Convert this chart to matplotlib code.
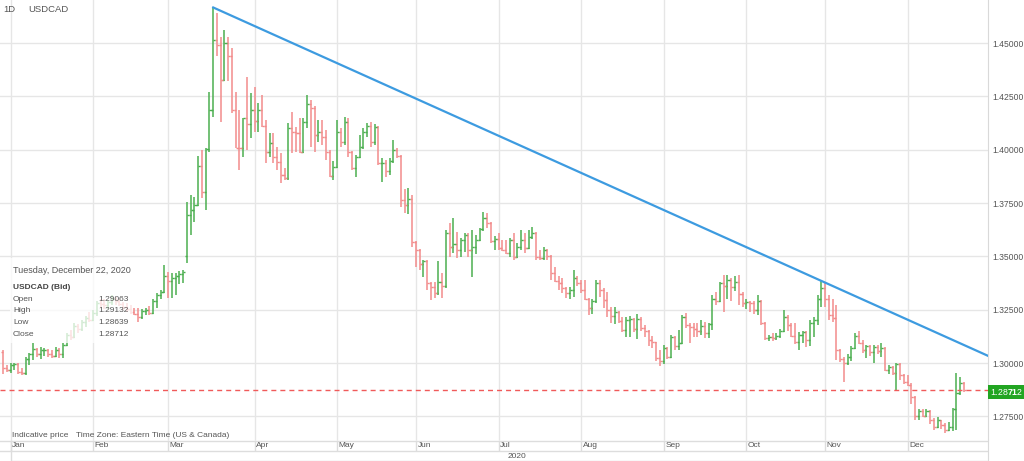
import numpy as np
import pandas as pd
import matplotlib
matplotlib.use('Agg')
import matplotlib.pyplot as plt
from matplotlib.patches import Rectangle
from matplotlib.ticker import FormatStrFormatter

plt.rcParams['font.family'] = ['Liberation Sans', 'DejaVu Sans']
plt.rcParams['mathtext.fontset'] = 'custom'
plt.rcParams['mathtext.rm'] = 'Liberation Sans'
plt.rcParams['mathtext.bf'] = 'Liberation Sans:bold'

# daily USDCAD bars: (open, high, low, close)
dec_2019 = [(1.3050, 1.3061, 1.2950, 1.2975), (1.2975, 1.2991, 1.2958, 1.2965)]
jan = [(1.2965, 1.3000, 1.2953, 1.2990), (1.2990, 1.3000, 1.2967, 1.2995), (1.2995, 1.2998, 1.2950, 1.2960),
       (1.2960, 1.2975, 1.2944, 1.2955), (1.2955, 1.3028, 1.2944, 1.3020), (1.3020, 1.3047, 1.2991, 1.3040),
       (1.3040, 1.3094, 1.3014, 1.3065), (1.3065, 1.3070, 1.3028, 1.3040), (1.3040, 1.3075, 1.3020, 1.3060),
       (1.3060, 1.3070, 1.3035, 1.3062), (1.3062, 1.3068, 1.3030, 1.3040), (1.3040, 1.3060, 1.3025, 1.3035),
       (1.3035, 1.3075, 1.3030, 1.3060), (1.3060, 1.3070, 1.3025, 1.3040), (1.3040, 1.3094, 1.3023, 1.3085),
       (1.3085, 1.3141, 1.3080, 1.3130), (1.3130, 1.3155, 1.3108, 1.3120), (1.3120, 1.3188, 1.3115, 1.3175),
       (1.3175, 1.3185, 1.3140, 1.3160), (1.3160, 1.3200, 1.3150, 1.3190), (1.3190, 1.3220, 1.3170, 1.3210),
       (1.3210, 1.3240, 1.3190, 1.3200), (1.3200, 1.3250, 1.3195, 1.3235)]
feb = [(1.3235, 1.3290, 1.3220, 1.3280), (1.3280, 1.3300, 1.3260, 1.3275), (1.3275, 1.3300, 1.3255, 1.3270),
       (1.3270, 1.3295, 1.3255, 1.3285), (1.3285, 1.3320, 1.3270, 1.3300), (1.3300, 1.3310, 1.3270, 1.3290),
       (1.3290, 1.3300, 1.3265, 1.3275), (1.3275, 1.3285, 1.3250, 1.3262), (1.3262, 1.3280, 1.3240, 1.3255),
       (1.3255, 1.3270, 1.3230, 1.3240), (1.3240, 1.3258, 1.3225, 1.3232), (1.3232, 1.3260, 1.3190, 1.3215),
       (1.3215, 1.3255, 1.3205, 1.3245), (1.3245, 1.3260, 1.3225, 1.3250), (1.3250, 1.3265, 1.3225, 1.3235),
       (1.3235, 1.3300, 1.3230, 1.3290), (1.3290, 1.3330, 1.3260, 1.3320), (1.3320, 1.3340, 1.3300, 1.3335),
       (1.3335, 1.3460, 1.3330, 1.3410), (1.3410, 1.3427, 1.3305, 1.3385)]
mar = [(1.3385, 1.3422, 1.3305, 1.3400), (1.3400, 1.3420, 1.3320, 1.3408), (1.3408, 1.3430, 1.3370, 1.3415),
       (1.3415, 1.3436, 1.3375, 1.3425), (1.3500, 1.3755, 1.3469, 1.3694), (1.3694, 1.3788, 1.3600, 1.3718),
       (1.3718, 1.3778, 1.3660, 1.3740), (1.3740, 1.3971, 1.3735, 1.3924), (1.3924, 1.4000, 1.3774, 1.3800),
       (1.3800, 1.4008, 1.3718, 1.4003), (1.4003, 1.4270, 1.3990, 1.4187), (1.4187, 1.4667, 1.4153, 1.4515),
       (1.4515, 1.4640, 1.4440, 1.4490), (1.4490, 1.4529, 1.4130, 1.4327), (1.4327, 1.4562, 1.4320, 1.4500),
       (1.4500, 1.4529, 1.4320, 1.4440), (1.4440, 1.4477, 1.4173, 1.4187), (1.4187, 1.4270, 1.4008, 1.4010),
       (1.4010, 1.4187, 1.3905, 1.4008), (1.4008, 1.4149, 1.3966, 1.4149), (1.4149, 1.4340, 1.4000, 1.4120),
       (1.4120, 1.4266, 1.4055, 1.4187)]
apr = [(1.4187, 1.4294, 1.4083, 1.4135), (1.4135, 1.4220, 1.4084, 1.4187), (1.4187, 1.4257, 1.4107, 1.4112),
       (1.4112, 1.4140, 1.3938, 1.3990), (1.3990, 1.4079, 1.3966, 1.4030), (1.4030, 1.4079, 1.3938, 1.3966),
       (1.3966, 1.4013, 1.3905, 1.3942), (1.3942, 1.3985, 1.3844, 1.3880), (1.3880, 1.3915, 1.3858, 1.3867),
       (1.3867, 1.4126, 1.3860, 1.4102), (1.4102, 1.4178, 1.3985, 1.4085), (1.4085, 1.4107, 1.3990, 1.4079),
       (1.4079, 1.4149, 1.3985, 1.3990), (1.3990, 1.4150, 1.3985, 1.4131), (1.4131, 1.4257, 1.4102, 1.4215),
       (1.4215, 1.4233, 1.4013, 1.4196), (1.4196, 1.4205, 1.3990, 1.4070), (1.4070, 1.4140, 1.4035, 1.4084),
       (1.4084, 1.4140, 1.4023, 1.4060), (1.4060, 1.4093, 1.3952, 1.3990), (1.3990, 1.3999, 1.3872, 1.3875),
       (1.3875, 1.3945, 1.3858, 1.3920)]
may = [(1.3920, 1.4140, 1.3915, 1.4084), (1.4084, 1.4103, 1.4013, 1.4037), (1.4037, 1.4154, 1.4020, 1.4130),
       (1.4130, 1.4150, 1.3966, 1.3990), (1.3990, 1.3995, 1.3905, 1.3915), (1.3915, 1.3975, 1.3872, 1.3966),
       (1.3966, 1.4070, 1.3961, 1.4013), (1.4013, 1.4102, 1.4005, 1.4084), (1.4084, 1.4126, 1.4060, 1.4112),
       (1.4112, 1.4130, 1.4013, 1.4037), (1.4037, 1.4120, 1.4020, 1.4107), (1.4107, 1.4110, 1.3929, 1.3938),
       (1.3938, 1.3961, 1.3850, 1.3940), (1.3940, 1.3950, 1.3870, 1.3900), (1.3900, 1.3960, 1.3880, 1.3945),
       (1.3945, 1.4046, 1.3938, 1.3999), (1.3999, 1.4010, 1.3960, 1.3971), (1.3971, 1.3975, 1.3730, 1.3764),
       (1.3764, 1.3816, 1.3704, 1.3741), (1.3741, 1.3821, 1.3699, 1.3770), (1.3770, 1.3788, 1.3544, 1.3567)]
jun = [(1.3567, 1.3570, 1.3450, 1.3530), (1.3530, 1.3535, 1.3436, 1.3464), (1.3464, 1.3483, 1.3403, 1.3480),
       (1.3480, 1.3485, 1.3342, 1.3375), (1.3375, 1.3380, 1.3295, 1.3356), (1.3356, 1.3380, 1.3303, 1.3328),
       (1.3328, 1.3478, 1.3320, 1.3380), (1.3380, 1.3422, 1.3305, 1.3360), (1.3360, 1.3624, 1.3350, 1.3610),
       (1.3610, 1.3657, 1.3497, 1.3544), (1.3544, 1.3680, 1.3516, 1.3560), (1.3560, 1.3614, 1.3492, 1.3530),
       (1.3530, 1.3587, 1.3495, 1.3577), (1.3577, 1.3610, 1.3520, 1.3600), (1.3600, 1.3610, 1.3497, 1.3530),
       (1.3530, 1.3624, 1.3403, 1.3545), (1.3545, 1.3600, 1.3510, 1.3575), (1.3575, 1.3633, 1.3570, 1.3628),
       (1.3628, 1.3708, 1.3620, 1.3680), (1.3680, 1.3704, 1.3633, 1.3657), (1.3657, 1.3660, 1.3563, 1.3570),
       (1.3570, 1.3596, 1.3530, 1.3580)]
jul = [(1.3580, 1.3610, 1.3530, 1.3540), (1.3540, 1.3577, 1.3525, 1.3530), (1.3530, 1.3577, 1.3510, 1.3515),
       (1.3515, 1.3587, 1.3497, 1.3577), (1.3577, 1.3610, 1.3483, 1.3497), (1.3497, 1.3563, 1.3490, 1.3544),
       (1.3544, 1.3624, 1.3530, 1.3577), (1.3577, 1.3610, 1.3516, 1.3540), (1.3540, 1.3624, 1.3535, 1.3590),
       (1.3590, 1.3638, 1.3580, 1.3610), (1.3610, 1.3615, 1.3483, 1.3497), (1.3497, 1.3530, 1.3483, 1.3490),
       (1.3490, 1.3545, 1.3485, 1.3530), (1.3530, 1.3535, 1.3483, 1.3500), (1.3500, 1.3505, 1.3389, 1.3420),
       (1.3420, 1.3450, 1.3380, 1.3385), (1.3385, 1.3410, 1.3342, 1.3375), (1.3375, 1.3400, 1.3330, 1.3350),
       (1.3350, 1.3356, 1.3305, 1.3328), (1.3328, 1.3356, 1.3300, 1.3342), (1.3342, 1.3436, 1.3310, 1.3400),
       (1.3400, 1.3410, 1.3360, 1.3375), (1.3375, 1.3389, 1.3330, 1.3340)]
aug = [(1.3340, 1.3389, 1.3295, 1.3300), (1.3300, 1.3305, 1.3225, 1.3260), (1.3260, 1.3300, 1.3230, 1.3290),
       (1.3290, 1.3389, 1.3280, 1.3375), (1.3375, 1.3389, 1.3310, 1.3342), (1.3342, 1.3352, 1.3258, 1.3295),
       (1.3295, 1.3333, 1.3216, 1.3249), (1.3249, 1.3262, 1.3188, 1.3220), (1.3220, 1.3262, 1.3185, 1.3240),
       (1.3240, 1.3245, 1.3188, 1.3198), (1.3198, 1.3215, 1.3145, 1.3155), (1.3155, 1.3215, 1.3122, 1.3200),
       (1.3200, 1.3220, 1.3120, 1.3205), (1.3205, 1.3210, 1.3145, 1.3160), (1.3160, 1.3230, 1.3112, 1.3205),
       (1.3205, 1.3215, 1.3150, 1.3165), (1.3165, 1.3180, 1.3122, 1.3150), (1.3150, 1.3155, 1.3080, 1.3108),
       (1.3108, 1.3125, 1.3070, 1.3098), (1.3098, 1.3100, 1.3010, 1.3023), (1.3023, 1.3060, 1.2985, 1.3010)]
sep = [(1.3010, 1.3085, 1.2995, 1.3070), (1.3070, 1.3075, 1.3020, 1.3030), (1.3030, 1.3131, 1.3023, 1.3120),
       (1.3120, 1.3125, 1.3060, 1.3080), (1.3080, 1.3155, 1.3061, 1.3094), (1.3094, 1.3225, 1.3090, 1.3216),
       (1.3216, 1.3235, 1.3164, 1.3180), (1.3180, 1.3188, 1.3094, 1.3170), (1.3170, 1.3188, 1.3122, 1.3160),
       (1.3160, 1.3188, 1.3122, 1.3150), (1.3150, 1.3200, 1.3130, 1.3175), (1.3175, 1.3190, 1.3117, 1.3141),
       (1.3141, 1.3188, 1.3117, 1.3185), (1.3185, 1.3319, 1.3155, 1.3300), (1.3300, 1.3333, 1.3272, 1.3290),
       (1.3290, 1.3380, 1.3286, 1.3375), (1.3375, 1.3413, 1.3239, 1.3360), (1.3360, 1.3413, 1.3300, 1.3390),
       (1.3390, 1.3400, 1.3290, 1.3356), (1.3356, 1.3406, 1.3338, 1.3380), (1.3380, 1.3413, 1.3272, 1.3322),
       (1.3322, 1.3333, 1.3262, 1.3280)]
oct_ = [(1.3280, 1.3300, 1.3255, 1.3285), (1.3285, 1.3290, 1.3240, 1.3280), (1.3280, 1.3290, 1.3230, 1.3249),
        (1.3249, 1.3319, 1.3225, 1.3290), (1.3290, 1.3295, 1.3178, 1.3188), (1.3188, 1.3190, 1.3108, 1.3117),
        (1.3117, 1.3130, 1.3103, 1.3120), (1.3120, 1.3140, 1.3103, 1.3115), (1.3115, 1.3140, 1.3110, 1.3125),
        (1.3125, 1.3160, 1.3117, 1.3150), (1.3150, 1.3249, 1.3145, 1.3215), (1.3215, 1.3225, 1.3150, 1.3180),
        (1.3180, 1.3188, 1.3122, 1.3127), (1.3127, 1.3188, 1.3090, 1.3098), (1.3098, 1.3145, 1.3061, 1.3131),
        (1.3131, 1.3150, 1.3094, 1.3145), (1.3145, 1.3150, 1.3075, 1.3108), (1.3108, 1.3202, 1.3080, 1.3188),
        (1.3188, 1.3216, 1.3122, 1.3202), (1.3202, 1.3319, 1.3178, 1.3300), (1.3300, 1.3385, 1.3262, 1.3352),
        (1.3352, 1.3375, 1.3262, 1.3300)]
nov = [(1.3300, 1.3319, 1.3202, 1.3225), (1.3225, 1.3300, 1.3192, 1.3210), (1.3210, 1.3272, 1.3014, 1.3061),
       (1.3061, 1.3065, 1.3005, 1.3020), (1.3020, 1.3028, 1.2910, 1.3000), (1.3000, 1.3040, 1.2990, 1.3028),
       (1.3028, 1.3080, 1.3010, 1.3070), (1.3070, 1.3141, 1.3065, 1.3127), (1.3127, 1.3150, 1.3090, 1.3094),
       (1.3094, 1.3108, 1.3047, 1.3061), (1.3061, 1.3085, 1.3023, 1.3080), (1.3080, 1.3085, 1.3033, 1.3050),
       (1.3050, 1.3085, 1.3000, 1.3075), (1.3075, 1.3085, 1.3040, 1.3055), (1.3055, 1.3094, 1.3028, 1.3070),
       (1.3070, 1.3075, 1.2962, 1.2967), (1.2967, 1.2990, 1.2950, 1.2980), (1.2980, 1.2985, 1.2945, 1.2953),
       (1.2953, 1.3000, 1.2873, 1.2995), (1.2995, 1.3000, 1.2920, 1.2943), (1.2943, 1.2950, 1.2900, 1.2910)]
dec = [(1.2910, 1.2943, 1.2890, 1.2899), (1.2899, 1.2905, 1.2807, 1.2840), (1.2840, 1.2845, 1.2733, 1.2752),
       (1.2752, 1.2785, 1.2733, 1.2775), (1.2775, 1.2785, 1.2745, 1.2752), (1.2752, 1.2785, 1.2745, 1.2775),
       (1.2775, 1.2780, 1.2714, 1.2733), (1.2733, 1.2740, 1.2686, 1.2700), (1.2700, 1.2747, 1.2695, 1.2733),
       (1.2733, 1.2735, 1.2690, 1.2710), (1.2710, 1.2718, 1.2670, 1.2686), (1.2686, 1.2725, 1.2680, 1.2700),
       (1.2700, 1.2790, 1.2680, 1.2785), (1.2785, 1.2953, 1.2686, 1.2860), (1.2860, 1.2934, 1.2850, 1.2906),
       (1.29063, 1.29132, 1.28639, 1.28712)]

month_names = ['Jan', 'Feb', 'Mar', 'Apr', 'May', 'Jun', 'Jul', 'Aug', 'Sep', 'Oct', 'Nov', 'Dec']
price_ticks = [1.275, 1.300, 1.325, 1.350, 1.375, 1.400, 1.425, 1.450]
trend_dates = ['2020-03-17', '2020-10-29']
trend_prices = [1.4667, 1.3385]
info_rows = [('Open', '1.29063'), ('High', '1.29132'), ('Low', '1.28639'), ('Close', '1.28712')]

bars = np.array(dec_2019 + jan + feb + mar + apr + may + jun + jul + aug + sep + oct_ + nov + dec)
dates = pd.bdate_range('2019-12-30', '2020-12-22')
o, h, l, c = bars.T
idx = np.arange(len(bars))

W, H = 1024, 461
GREEN = '#4caf50'
RED = '#f28b8b'
GRID = '#e6e6e6'
TXT = '#555555'
FS = 6.0

fig = plt.figure(figsize=(W / 100, H / 100), dpi=100)
ax = fig.add_axes([0, 21 / H, 988 / W, 440 / H])
xlim = (-0.8, 262.4)
ax.set_xlim(*xlim)
ax.set_ylim(1.2639, 1.4702)

# month separators
month_pos = dates.searchsorted(pd.date_range('2020-01-01', '2020-12-01', freq='MS'), side='right') - 1
for p in month_pos:
    ax.axvline(p, color=GRID, lw=1, zorder=0)
ax.set_yticks(price_ticks)
ax.grid(axis='y', color=GRID, lw=1, zorder=0)
ax.set_xticks([])
ax.yaxis.tick_right()
ax.yaxis.set_major_formatter(FormatStrFormatter('%.5f'))
ax.tick_params(axis='y', length=0, pad=3, labelsize=6.2, labelcolor=TXT)
for s in ['top', 'left', 'bottom']:
    ax.spines[s].set_visible(False)
ax.spines['right'].set_color('#d9d9d9')

# OHLC bars
colors = np.where(c >= o, GREEN, RED)
ax.vlines(idx, np.minimum(l, np.minimum(o, c)), np.maximum(h, np.maximum(o, c)), colors=colors, lw=1.1, zorder=3)
ax.hlines(o, idx - 0.55, idx, colors=colors, lw=1, zorder=3)
ax.hlines(c, idx, idx + 0.55, colors=colors, lw=1, zorder=3)

# trend line from the March high through the late-October high
ti = dates.get_indexer(pd.to_datetime(trend_dates))
slope = (trend_prices[1] - trend_prices[0]) / (ti[1] - ti[0])
ax.plot([ti[0], xlim[1]], [trend_prices[0], trend_prices[0] + slope * (xlim[1] - ti[0])],
        color='#3d9be0', lw=1.6, zorder=4)

# last close
ax.axhline(c[-1], color='#f05a5a', lw=1, dashes=(3.6, 2.9), zorder=4)
fig.text(990 / W, 1 - 392 / H, r'1.28$\mathbf{71}$2', color='white', fontsize=6.3, va='center',
         bbox=dict(boxstyle='square,pad=0.25', fc='#22a522', ec='none'))

# date band at the bottom
bx = fig.add_axes([0, 0, 988 / W, 21 / H])
bx.set_xlim(*xlim)
bx.set_ylim(0, 21)
bx.set_xticks([])
bx.set_yticks([])
for s in ['top', 'left', 'bottom']:
    bx.spines[s].set_visible(False)
bx.spines['right'].set_color('#d9d9d9')
bx.axhline(20.5, color='#dddddd', lw=1)
bx.axhline(10, color='#dddddd', lw=1)
bx.hlines(0.5, month_pos[0], xlim[1], color='#dddddd', lw=1)
bx.vlines(month_pos[0], 0, 21, color='#dddddd', lw=1)
for p, name in zip(month_pos, month_names):
    bx.vlines(p, 10, 21, color='#dddddd', lw=1)
    bx.text(p + 0.4, 15.3, name, fontsize=FS, color=TXT, va='center', ha='left')
bx.text(134.5, 5, '2020', fontsize=FS, color=TXT, va='center', ha='left')

# header and footnote
fig.text(3 / W, 1 - 10 / H, '1D', fontsize=6.8, color=TXT, va='center')
fig.text(28 / W, 1 - 10 / H, 'USDCAD', fontsize=6.8, color=TXT, va='center')
fig.text(12 / W, 1 - 435 / H, 'Indicative price', fontsize=FS, color=TXT, va='center')
fig.text(76 / W, 1 - 435 / H, 'Time Zone: Eastern Time (US & Canada)', fontsize=FS, color=TXT, va='center')

# info box for the last bar
fig.add_artist(Rectangle((10 / W, 1 - 343 / H), 123 / W, 85 / H, transform=fig.transFigure,
                         fc='white', ec='none', alpha=0.75, zorder=5))
fig.text(13 / W, 1 - 270 / H, 'Tuesday, December 22, 2020', fontsize=6.5, color=TXT, va='center', zorder=6)
fig.text(13 / W, 1 - 287 / H, 'USDCAD (Bid)', fontsize=FS, color='#444444', weight='bold', va='center', zorder=6)
for k, (name, val) in enumerate(info_rows):
    yy = 1 - (299 + 11.7 * k) / H
    fig.text(13 / W, yy, name, fontsize=FS, color=TXT, va='center', zorder=6)
    fig.text(98 / W, yy, val, fontsize=FS, color=TXT, va='center', zorder=6)

fig.savefig('out.png', dpi=100)
